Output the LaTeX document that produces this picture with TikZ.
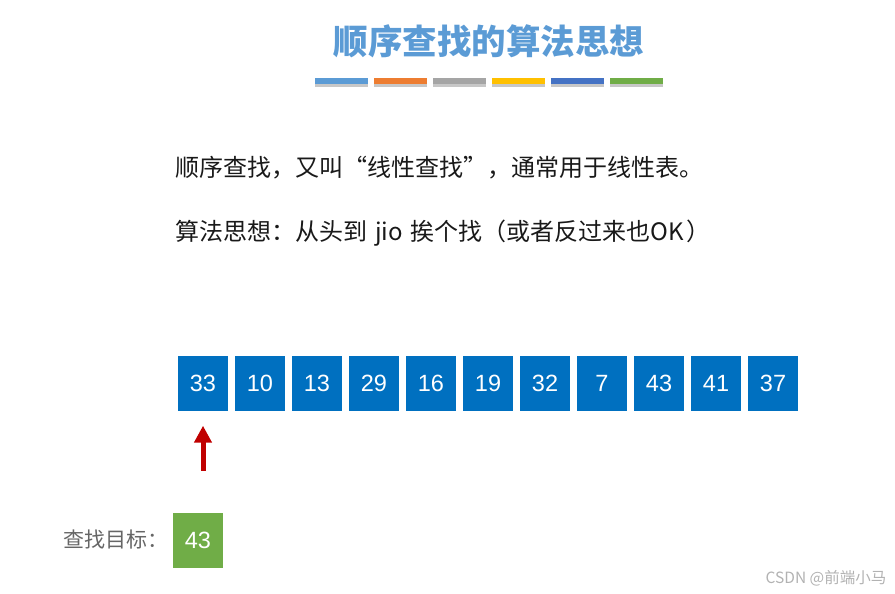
\documentclass[tikz,border=0pt]{standalone}
\usepackage{fontspec}
\setmainfont{Noto Sans CJK SC}
\newfontfamily\numfont{Liberation Sans}
\usetikzlibrary{arrows.meta,positioning}
\definecolor{ttlblue}{HTML}{5B9BD5}
\definecolor{cblue}{HTML}{5B9BD5}
\definecolor{corange}{HTML}{ED7D31}
\definecolor{cgray}{HTML}{A5A5A5}
\definecolor{cgold}{HTML}{FFC000}
\definecolor{cdblue}{HTML}{4472C4}
\definecolor{cgreen}{HTML}{70AD47}
\definecolor{cell}{HTML}{0070C0}
\definecolor{ptrred}{HTML}{C00000}
\tikzset{
  cellbox/.style ={fill=cell,text=white,minimum width=50pt,minimum height=55pt,
                   inner sep=0pt,font=\numfont\fontsize{23.5}{26}\selectfont},
  tgtbox/.style  ={fill=cgreen,text=white,minimum width=50pt,minimum height=55pt,
                   inner sep=0pt,font=\numfont\fontsize{23.5}{26}\selectfont},
  line/.style    ={anchor=west,inner sep=0pt,font=\fontsize{24}{26}\selectfont,text=black!90},
  bar/.style     ={minimum width=53pt,minimum height=6pt,inner sep=0pt},
  ptr/.style     ={-{Triangle[width=17pt,length=17pt]},line width=5pt,ptrred},
}
\begin{document}
\begin{tikzpicture}[x=1pt,y=1pt]
  \useasboundingbox (0,0) rectangle (895,-594);
  % title and colour strip
  \node[font=\fontsize{34.5}{38}\selectfont\bfseries,text=ttlblue] (title) at (489,-41) {顺序查找的算法思想};
  \foreach \c [count=\i from 0] in {cblue,corange,cgray,cgold,cdblue,cgreen}{
    \fill[black!22] (315+\i*59,-80) rectangle ++(53,-7);
    \node[bar,fill=\c,anchor=north west] (bar\i) at (315+\i*59,-78) {};
  }
  % explanation
  \node[line] (txt1) at (175,-168) {顺序查找，又叫“线性查找”，通常用于线性表。};
  \node[line] (txt2) at (175,-233) {算法思想：从头到\hspace{8pt}jio\hspace{8pt}挨个找（或者反过来也OK\hspace{2pt}）};
  % the list
  \node[cellbox] (a1) at (203,-383) {33};
  \node[cellbox,right=6.6pt of a1] (a2) {10};
  \node[cellbox,right=6.6pt of a2] (a3) {13};
  \node[cellbox,right=6.6pt of a3] (a4) {29};
  \node[cellbox,right=6.6pt of a4] (a5) {16};
  \node[cellbox,right=6.6pt of a5] (a6) {19};
  \node[cellbox,right=6.6pt of a6] (a7) {32};
  \node[cellbox,right=6.6pt of a7] (a8) {7};
  \node[cellbox,right=6.6pt of a8] (a9) {43};
  \node[cellbox,right=6.6pt of a9] (a10) {41};
  \node[cellbox,right=6.6pt of a10] (a11) {37};
  % pointer
  \coordinate[below=60pt of a1.south] (tail);
  \draw[ptr,shorten >=15pt] (tail) -- (a1.south);
  % target
  \node[tgtbox] (tgt) at (198,-540) {43};
  \node[left=4pt of tgt,inner sep=0pt,font=\fontsize{21}{24}\selectfont,text=black!60] (tgtlbl) {查找目标：};
  \node[font=\fontsize{15.5}{18}\selectfont,text=black!30] (mark) at (826,-578) {CSDN @前端小马};
\end{tikzpicture}
\end{document}
